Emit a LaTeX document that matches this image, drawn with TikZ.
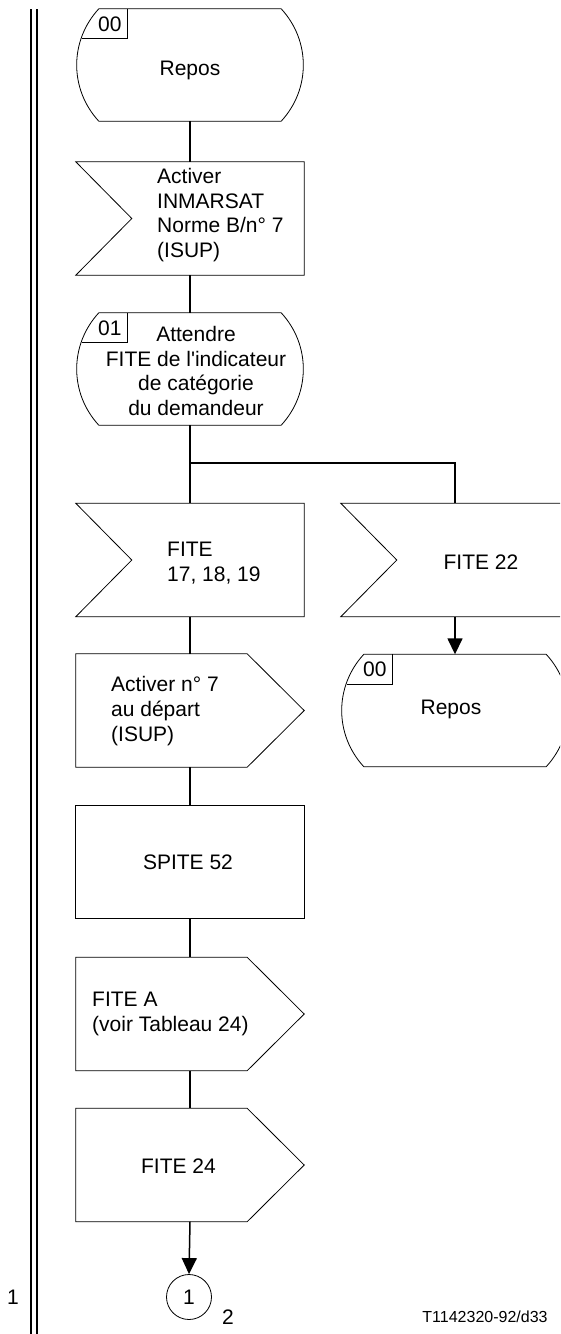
\documentclass[tikz,border=0pt]{standalone}
\usepackage{fontspec}
\setmainfont{Liberation Sans}
\usetikzlibrary{arrows.meta,calc}
\newcommand\inshape[1]{\draw[outline] (#1.north west) -- (#1.north east) -- (#1.south east) -- (#1.south west) -- ($(#1.west)+(56,0)$) -- cycle;}
\newcommand\outshape[1]{\draw[outline] (#1.north west) -- ($(#1.north east)+(-57,0)$) -- (#1.east) -- ($(#1.south east)+(-57,0)$) -- (#1.south west) -- cycle;}
\newcommand\stshape[2]{%
  \draw[outline] (#1.north west) -- (#1.north east) .. controls +(29.5,32) and +(29.5,-32) .. (#1.south east) -- (#1.south west) .. controls +(-29.5,-32) and +(-29.5,32) .. (#1.north west) -- cycle;
  \draw[outline] ($(#1.north west)+(29,0)$) -- ++(0,30) -- ++(-46,0);
  \node[lbl] (#1lab) at ($(#1.north west)+(11,15)$) {#2};}
\begin{document}
\begin{tikzpicture}[x=1pt,y=-1pt,
  frame/.style={draw=none,minimum width=228pt,minimum height=113pt,inner sep=0pt},
  stframe/.style={draw=none,minimum width=182pt,minimum height=112pt,inner sep=0pt},
  outline/.style={draw=black,line width=0.8pt},
  conn/.style={draw=black,line width=1.5pt},
  arr/.style={conn,-{Triangle[length=16pt,width=15pt]}},
  txt/.style={font=\fontsize{21}{24.8}\selectfont,inner sep=0pt},
  txtl/.style={txt,align=left,anchor=west},
  txtc/.style={txt,align=center},
  lbl/.style={font=\fontsize{21}{24}\selectfont,inner sep=0pt}]
\useasboundingbox (0,0) rectangle (560,1334);
\begin{scope}
\clip (0,0) rectangle (560,1334);
% margin double line
\draw[line width=1.6pt] (31,9) coordinate (la) -- (31,1334) coordinate (lb);
\draw[line width=1.6pt] (37,9) coordinate (lc) -- (37,1334) coordinate (ld);
% frames
\node[stframe] (s0) at (190,65) {};
\node[frame] (in1) at (190,218.5) {};
\node[stframe] (s1) at (190,369) {};
\coordinate (j) at (190,463);
\node[frame] (in2) at (190,560) {};
\node[frame] (in3) at (455,560) {};
\node[stframe] (s2) at (455,710.5) {};
\node[frame] (out1) at (190,710.5) {};
\node[frame] (task) at (190,862) {};
\node[frame] (out2) at (190,1014) {};
\node[frame] (out3) at (190,1165) {};
\node[circle,outline,minimum size=45pt,inner sep=0pt,lbl] (c1) at (189,1297) {1};
% outlines
\stshape{s0}{00}
\inshape{in1}
\stshape{s1}{01}
\inshape{in2}
\inshape{in3}
\stshape{s2}{00}
\outshape{out1}
\draw[outline] (task.north west) rectangle (task.south east);
\outshape{out2}
\outshape{out3}
% texts
\node[txtc] (s0t) at (190,70) {Repos};
\node[txtl] (in1t) at (157,215) {Activer\\INMARSAT\\Norme B/n° 7\\(ISUP)};
\node[txtc] (s1t) at (196,371) {Attendre\\FITE de l\textquotesingle indicateur\\de catégorie\\du demandeur};
\node[txtl] (in2t) at (167,563) {FITE\\17, 18, 19};
\node[txtc] (in3t) at (481,562) {FITE 22};
\node[txtc] (s2t) at (451,709) {Repos};
\node[txtl] (out1t) at (111,711) {Activer n° 7\\au départ\\(ISUP)};
\node[txtc] (taskt) at (188,862) {SPITE 52};
\node[txtl] (out2t) at (92,1014) {FITE A\\(voir Tableau 24)};
\node[txtc] (out3t) at (178.5,1166) {FITE 24};
\node[txt] (one) at (13,1297) {1};
\node[txt] (two) at (228,1317) {2};
\node[font=\fontsize{16}{16}\selectfont,inner sep=0pt] (ref) at (485,1317) {T1142320-92/d33};
% connectors
\draw[conn] (s0.south) -- (in1.north);
\draw[conn] (in1.south) -- (s1.north);
\draw[conn] (s1.south) -- (in2.north);
\draw[conn] (j) -| (in3.north);
\draw[arr] (in3.south) -- (s2.north);
\draw[conn] (in2.south) -- (out1.north);
\draw[conn] (out1.south) -- (task.north);
\draw[conn] (task.south) -- (out2.north);
\draw[conn] (out2.south) -- (out3.north);
\draw[arr] (out3.south) -- (c1.north);
\end{scope}
\end{tikzpicture}
\end{document}
